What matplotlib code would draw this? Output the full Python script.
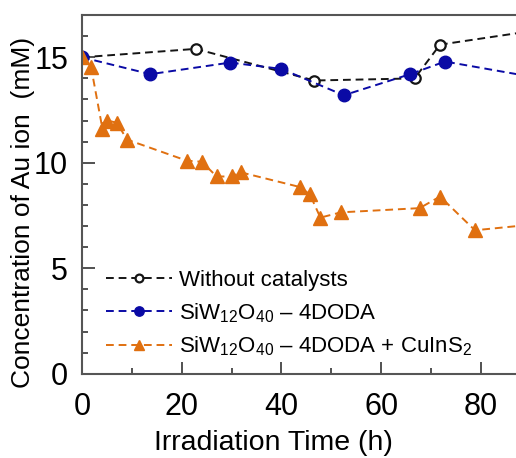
import matplotlib.pyplot as plt
from matplotlib.ticker import MultipleLocator

plt.rcParams['font.family'] = ['Liberation Sans', 'DejaVu Sans']
plt.rcParams['mathtext.fontset'] = 'custom'
plt.rcParams['mathtext.rm'] = 'Liberation Sans'

# Au ion concentration (mM) vs irradiation time (h)
t_blank = [0, 22.8, 46.6, 66.7, 71.8, 96]
c_blank = [15.0, 15.4, 13.9, 14.0, 15.6, 16.45]

t_poly = [0, 13.7, 29.7, 40.0, 52.5, 65.8, 72.8, 89.6]
c_poly = [15.0, 14.2, 14.75, 14.45, 13.2, 14.2, 14.8, 14.1]

t_cat = [0, 1.8, 4.1, 5.1, 7.0, 9.0, 21.0, 24.0, 27.0, 30.0, 31.8,
         43.7, 45.7, 47.8, 51.9, 67.7, 71.8, 78.8, 100]
c_cat = [15.0, 14.55, 11.6, 12.0, 11.9, 11.1, 10.1, 10.05, 9.35, 9.35, 9.55,
         8.85, 8.5, 7.4, 7.65, 7.85, 8.4, 6.8, 7.3]

labels = ['Without catalysts',
          r'SiW$_{12}$O$_{40}$ – 4DODA',
          r'SiW$_{12}$O$_{40}$ – 4DODA + CuInS$_2$']

black = '#151515'
blue = '#0a0aa5'
orange = '#e07010'

fig = plt.figure(figsize=(5.16, 4.58), dpi=100)
ax = fig.add_axes([0.159, 0.184, 0.86, 0.783])

ax.plot(t_blank, c_blank, '--o', color=black, mfc='white', mec=black,
        ms=7.5, mew=1.6, lw=1.4, dashes=(4, 2.5), label=labels[0])
ax.plot(t_poly, c_poly, '--o', color=blue, ms=9, lw=1.4, dashes=(4, 2.5),
        label=labels[1])
ax.plot(t_cat, c_cat, '--^', color=orange, ms=10.5, lw=1.4, dashes=(4, 2.5),
        label=labels[2])

ax.set_xlim(0, 89)
ax.set_ylim(0, 17)
ax.xaxis.set_major_locator(MultipleLocator(20))
ax.xaxis.set_minor_locator(MultipleLocator(10))
ax.yaxis.set_major_locator(MultipleLocator(5))
ax.yaxis.set_minor_locator(MultipleLocator(1))

ax.tick_params(which='both', direction='in', colors='#333333', labelcolor='black',
               labelsize=22, top=False, right=False)
ax.tick_params(which='major', length=9, width=1.2)
ax.tick_params(which='minor', length=4, width=1.2)
ax.tick_params(axis='x', pad=13)
ax.tick_params(axis='y', pad=10)

for side in ['left', 'bottom', 'top']:
    ax.spines[side].set_color('#555555')
    ax.spines[side].set_linewidth(1.5)
ax.spines['right'].set_visible(False)

ax.set_xlabel('Irradiation Time (h)', fontsize=20.5)
ax.set_ylabel('Concentration of Au ion  (mM)', fontsize=19)
ax.xaxis.set_label_coords(0.432, -0.156)
ax.yaxis.set_label_coords(-0.106, 0.45)

ax.legend(loc='lower left', bbox_to_anchor=(0.018, 0.0), frameon=False,
          fontsize=16, handlelength=3.0, handletextpad=0.3, labelspacing=0.45,
          markerscale=0.75, borderaxespad=0.3)

fig.savefig('out.png', dpi=100)
